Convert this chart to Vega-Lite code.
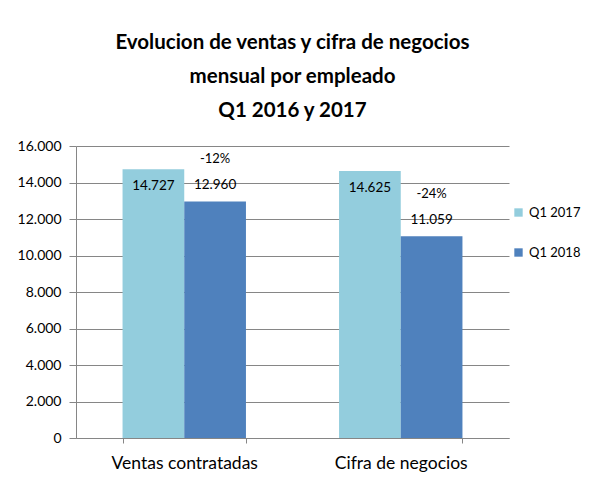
{
  "$schema": "https://vega.github.io/schema/vega-lite/v6.json",
  "width": 433,
  "height": 292,
  "autosize": {"type": "pad"},
  "padding": {"left": 17, "top": 32, "right": 5, "bottom": 5},
  "background": "white",
  "config": {
    "locale": {"number": {"decimal": ",", "thousands": ".", "grouping": [3], "currency": ["", " €"]}},
    "view": {"stroke": null},
    "font": "Lato"
  },
  "title": {
    "text": ["Evolucion de ventas y cifra de negocios", "mensual por empleado", "Q1 2016 y 2017"],
    "fontSize": 20.5,
    "fontWeight": "bold",
    "lineHeight": 34,
    "font": "Lato",
    "color": "black",
    "offset": 18,
    "anchor": "middle"
  },
  "data": {"values": [
    {"categoria": "Ventas contratadas", "periodo": "Q1 2017", "valor": 14727, "variacion": null},
    {"categoria": "Ventas contratadas", "periodo": "Q1 2018", "valor": 12960, "variacion": "-12%"},
    {"categoria": "Cifra de negocios", "periodo": "Q1 2017", "valor": 14625, "variacion": null},
    {"categoria": "Cifra de negocios", "periodo": "Q1 2018", "valor": 11059, "variacion": "-24%"}
  ]},
  "encoding": {
    "x": {
      "field": "categoria", "type": "nominal",
      "sort": ["Ventas contratadas", "Cifra de negocios"],
      "scale": {"paddingInner": 0.43, "paddingOuter": 0.215},
      "axis": {
        "title": null, "labelAngle": 0, "tickBand": "extent", "tickSize": 5,
        "tickColor": "#868686", "domainColor": "#868686",
        "labelFontSize": 17.5, "labelColor": "black", "labelPadding": 11, "grid": false
      }
    },
    "xOffset": {"field": "periodo", "type": "nominal", "sort": ["Q1 2017", "Q1 2018"]},
    "y": {
      "field": "valor", "type": "quantitative",
      "scale": {"domain": [0, 16000]},
      "axis": {
        "title": null, "values": [0, 2000, 4000, 6000, 8000, 10000, 12000, 14000, 16000],
        "format": ",d", "tickSize": 7, "tickColor": "#868686", "domainColor": "#868686",
        "gridColor": "#868686", "labelFontSize": 14, "labelColor": "black", "labelPadding": 8
      }
    }
  },
  "layer": [
    {
      "mark": {"type": "bar"},
      "encoding": {
        "color": {
          "field": "periodo", "type": "nominal",
          "scale": {"domain": ["Q1 2017", "Q1 2018"], "range": ["#93CDDD", "#4F81BD"]},
          "legend": {
            "title": null, "orient": "none", "legendX": 436, "legendY": 60,
            "symbolType": "square", "symbolSize": 70, "symbolStrokeWidth": 0,
            "labelFontSize": 13, "labelColor": "black", "rowPadding": 26, "labelOffset": 4
          }
        }
      }
    },
    {
      "transform": [{"filter": "datum.periodo === 'Q1 2017'"}],
      "mark": {"type": "text", "dy": 17, "fontSize": 13.5, "color": "black"},
      "encoding": {"text": {"field": "valor", "type": "quantitative", "format": ",d"}}
    },
    {
      "transform": [{"filter": "datum.periodo === 'Q1 2018'"}],
      "mark": {"type": "text", "dy": -16, "fontSize": 13.5, "color": "black"},
      "encoding": {"text": {"field": "valor", "type": "quantitative", "format": ",d"}}
    },
    {
      "transform": [{"filter": "datum.variacion != null"}],
      "mark": {"type": "text", "dy": -42, "fontSize": 13, "color": "black"},
      "encoding": {"text": {"field": "variacion", "type": "nominal"}}
    }
  ]
}
